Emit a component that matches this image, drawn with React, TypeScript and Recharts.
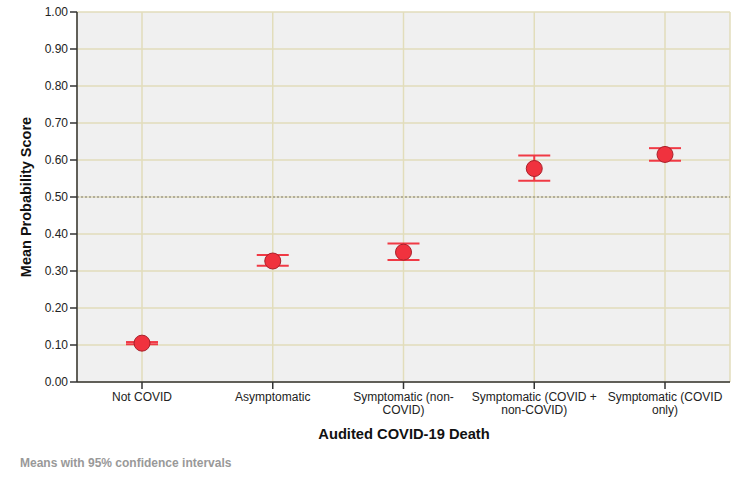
import { useEffect } from 'react'
import {
  ComposedChart, Scatter, ErrorBar, XAxis, YAxis, CartesianGrid, ReferenceLine,
} from 'recharts'

const categories = [
  'Not COVID',
  'Asymptomatic',
  'Symptomatic (non-COVID)',
  'Symptomatic (COVID + non-COVID)',
  'Symptomatic (COVID only)',
]
const tickLines = [
  ['Not COVID'],
  ['Asymptomatic'],
  ['Symptomatic (non-', 'COVID)'],
  ['Symptomatic (COVID +', 'non-COVID)'],
  ['Symptomatic (COVID', 'only)'],
]
const means = [0.105, 0.327, 0.351, 0.577, 0.615]
const lower = [0.102, 0.314, 0.330, 0.544, 0.598]
const upper = [0.108, 0.343, 0.374, 0.612, 0.632]
const yTicks = [0, 0.1, 0.2, 0.3, 0.4, 0.5, 0.6, 0.7, 0.8, 0.9, 1.0]

const data = categories.map((name, i) => ({
  name,
  mean: means[i],
  err: [means[i] - lower[i], upper[i] - means[i]],
}))

const FONT = 'Arial, "Liberation Sans", sans-serif'

function XTick({ x, y, index }: any) {
  const lines = tickLines[index] ?? []
  return (
    <text x={x} y={y} textAnchor="middle" fontSize={12} fontFamily={FONT} fill="#222">
      {lines.map((l, i) => (
        <tspan key={i} x={x} dy={i === 0 ? 10 : 12.5}>{l}</tspan>
      ))}
    </text>
  )
}

function Dot({ cx, cy }: any) {
  return <circle cx={cx} cy={cy} r={8} fill="#f0323e" stroke="#a8202a" strokeWidth={1} />
}

export default function App() {
  useEffect(() => {
    document.body.style.margin = '0'
  }, [])

  return (
    <div style={{ position: 'relative', width: 746, height: 485, background: '#fff', fontFamily: FONT }}>
      <ComposedChart width={746} height={485} data={data} margin={{ top: 12, right: 16, bottom: 63, left: 17 }}>
        <CartesianGrid stroke="#e2ddbb" strokeWidth={1.5} fill="#f0f0f0" />
        <XAxis
          dataKey="name"
          type="category"
          height={40}
          padding={{ left: 65, right: 65 }}
          tick={<XTick />}
          tickSize={7}
          axisLine={{ stroke: '#333', strokeWidth: 1.5 }}
          tickLine={{ stroke: '#333', strokeWidth: 1.5 }}
          interval={0}
        />
        <XAxis xAxisId="top" dataKey="name" orientation="top" height={0} tick={false} tickLine={false}
          axisLine={{ stroke: '#666', strokeWidth: 2 }} />
        <YAxis
          domain={[0, 1]}
          ticks={yTicks}
          width={60}
          tickSize={7}
          tickFormatter={(v: number) => v.toFixed(2)}
          tick={{ fontSize: 12, fontFamily: FONT, fill: '#222' }}
          axisLine={{ stroke: '#333', strokeWidth: 1.5 }}
          tickLine={{ stroke: '#333', strokeWidth: 1.5 }}
          interval={0}
        />
        <YAxis yAxisId="right" orientation="right" width={0} domain={[0, 1]} tick={false} tickLine={false}
          axisLine={{ stroke: '#888', strokeWidth: 2 }} />
        <ReferenceLine y={0.5} stroke="#a09c90" strokeDasharray="2 2" strokeWidth={1.5} />
        <Scatter dataKey="mean" shape={<Dot />} isAnimationActive={false}>
          <ErrorBar dataKey="err" direction="y" width={16} stroke="#f03a45" strokeWidth={2} />
        </Scatter>
      </ComposedChart>
      <div style={{
        position: 'absolute', left: 26, top: 197, transform: 'translate(-50%, -50%) rotate(-90deg)',
        whiteSpace: 'nowrap', fontWeight: 'bold', fontSize: 14.5, color: '#111',
      }}>
        Mean Probability Score
      </div>
      <div style={{
        position: 'absolute', left: 404, top: 434, transform: 'translate(-50%, -50%)',
        whiteSpace: 'nowrap', fontWeight: 'bold', fontSize: 14.7, color: '#111',
      }}>
        Audited COVID-19 Death
      </div>
      <div style={{
        position: 'absolute', left: 20, top: 463, transform: 'translateY(-50%)',
        whiteSpace: 'nowrap', fontWeight: 'bold', fontSize: 12, color: '#999',
      }}>
        Means with 95% confidence intervals
      </div>
    </div>
  )
}
